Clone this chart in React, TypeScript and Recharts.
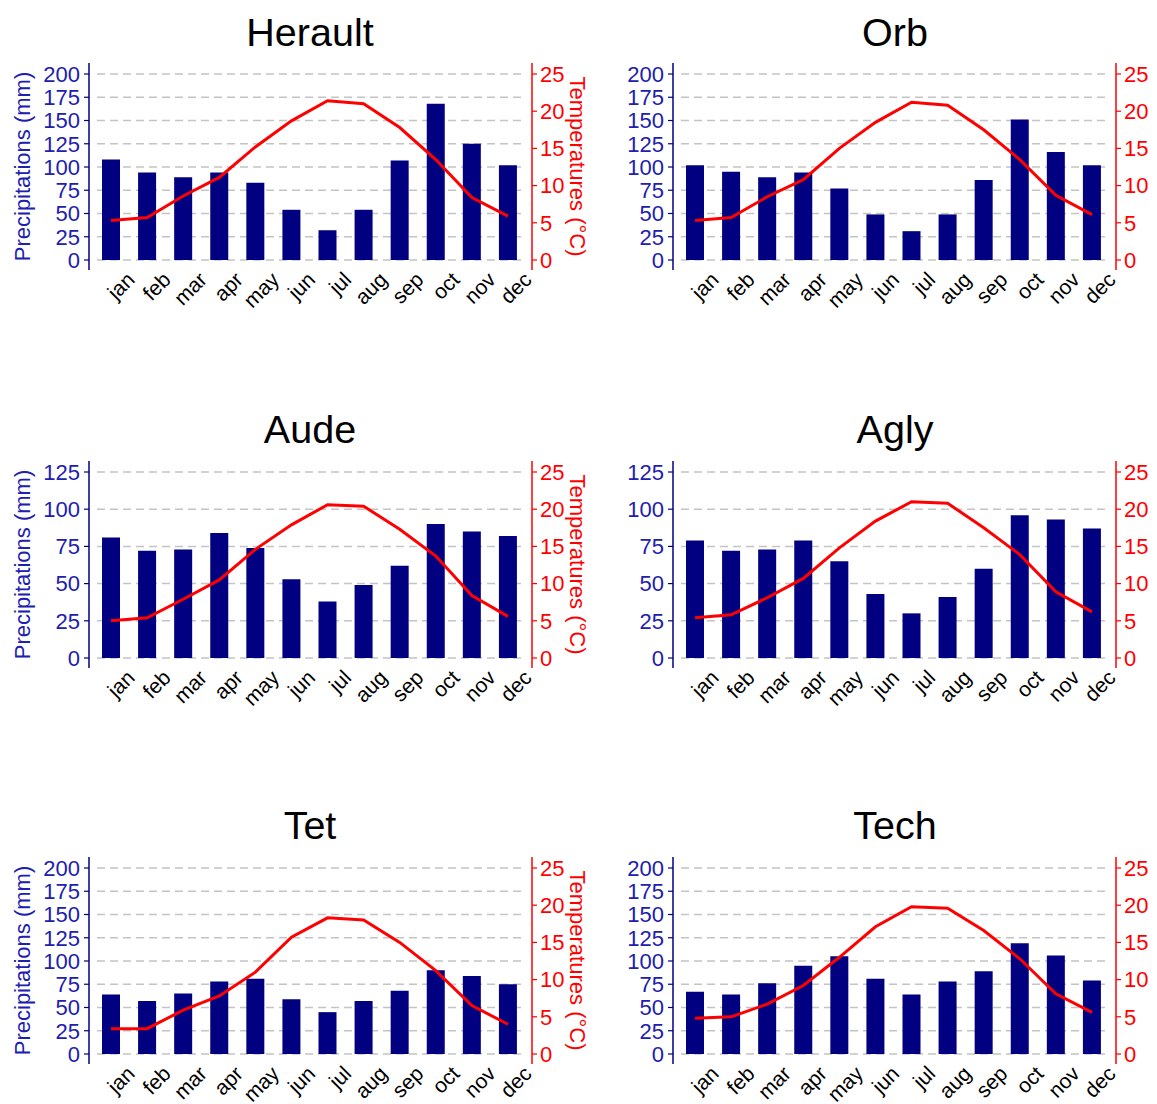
import React from "react";
import { ComposedChart, Bar, Line, XAxis, YAxis, CartesianGrid } from "recharts";

const MONTHS = ["jan", "feb", "mar", "apr", "may", "jun", "jul", "aug", "sep", "oct", "nov", "dec"];

const PRECIP_TICKS_200 = [0, 25, 50, 75, 100, 125, 150, 175, 200];
const PRECIP_TICKS_125 = [0, 25, 50, 75, 100, 125];
const TEMP_TICKS = [0, 5, 10, 15, 20, 25];

const HERAULT_PRECIP = [108, 94, 89, 94, 83, 54, 32, 54, 107, 168, 125, 102];
const HERAULT_TEMP = [5.3, 5.7, 8.6, 11.1, 15.2, 18.7, 21.4, 21.0, 17.8, 13.5, 8.4, 5.9];

const ORB_PRECIP = [102, 95, 89, 94, 77, 49, 31, 49, 86, 151, 116, 102];
const ORB_TEMP = [5.3, 5.7, 8.5, 10.8, 15.0, 18.5, 21.2, 20.8, 17.5, 13.5, 8.7, 6.1];

const AUDE_PRECIP = [81, 72, 73, 84, 74, 53, 38, 49, 62, 90, 85, 82];
const AUDE_TEMP = [5.0, 5.4, 7.9, 10.5, 14.6, 17.9, 20.6, 20.4, 17.3, 13.7, 8.4, 5.6];

const AGLY_PRECIP = [79, 72, 73, 79, 65, 43, 30, 41, 60, 96, 93, 87];
const AGLY_TEMP = [5.4, 5.8, 8.1, 10.7, 14.8, 18.4, 21.0, 20.8, 17.5, 13.9, 8.9, 6.2];

const TET_PRECIP = [64, 57, 65, 78, 81, 59, 45, 57, 68, 90, 84, 75];
const TET_TEMP = [3.4, 3.4, 5.9, 7.8, 11.0, 15.7, 18.3, 18.0, 15.0, 11.2, 6.5, 4.0];

const TECH_PRECIP = [67, 64, 76, 95, 105, 81, 64, 78, 89, 119, 106, 79];
const TECH_TEMP = [4.8, 5.0, 6.7, 9.2, 13.0, 17.1, 19.8, 19.6, 16.6, 12.8, 8.1, 5.6];

const FONT = "'Liberation Sans', Arial, sans-serif";
const BLUE_TEXT = "#2020b0";
const NAVY = "#000080";
const RED = "#ff0000";

const PANEL_W = 600;
const PANEL_H = 320;
const PLOT_TOP = 63;
const X_AXIS_H = 50;
const PLOT_H = PANEL_H - PLOT_TOP - X_AXIS_H;
const LEFT_AXIS_W = 89;
const RIGHT_AXIS_W = 68;

const COL_LEFT = [0, 584];
const ROW_TOP = [0, 398, 794];

function MonthTick(props: any) {
  const { x, y, payload } = props;
  const px = x + 25;
  const py = y + 11;
  return (
    <text
      x={px}
      y={py}
      transform={`rotate(-45, ${px}, ${py})`}
      textAnchor="end"
      fill="#000"
      fontSize={21}
      fontFamily={FONT}
    >
      {payload.value}
    </text>
  );
}

function PrecipLabel() {
  const cx = 22;
  const cy = PLOT_TOP + PLOT_H / 2;
  return (
    <text
      x={cx}
      y={cy}
      transform={`rotate(-90, ${cx}, ${cy})`}
      textAnchor="middle"
      dominantBaseline="central"
      fill={BLUE_TEXT}
      fontSize={22}
      fontFamily={FONT}
    >
      Precipitations (mm)
    </text>
  );
}

function TempLabel() {
  const cx = 577;
  const cy = PLOT_TOP + PLOT_H / 2;
  return (
    <text
      x={cx}
      y={cy}
      transform={`rotate(90, ${cx}, ${cy})`}
      textAnchor="middle"
      dominantBaseline="central"
      fill={RED}
      fontSize={22}
      fontFamily={FONT}
    >
      Temperatures (°C)
    </text>
  );
}

type PanelProps = {
  precip: number[];
  temp: number[];
  precipTicks: number[];
  left: number;
  top: number;
  withLabels: boolean;
};

function ClimatePanel({ precip, temp, precipTicks, left, top, withLabels }: PanelProps) {
  const data = MONTHS.map((m, i) => ({ month: m, precip: precip[i], temp: temp[i] }));
  const pMax = precipTicks[precipTicks.length - 1];
  return (
    <div style={{ position: "absolute", left, top, width: PANEL_W, height: PANEL_H }}>
      <ComposedChart
        width={PANEL_W}
        height={PANEL_H}
        data={data}
        margin={{ top: PLOT_TOP, right: 0, bottom: 0, left: 0 }}
      >
        <CartesianGrid
          yAxisId="p"
          horizontal
          vertical={false}
          syncWithTicks
          x={97}
          width={428}
          stroke="#c4c4c4"
          strokeDasharray="8 5"
          strokeWidth={1.5}
        />
        <XAxis
          dataKey="month"
          height={X_AXIS_H}
          axisLine={false}
          tickLine={false}
          tickSize={0}
          tickMargin={0}
          interval={0}
          padding={{ left: 4, right: 6 }}
          tick={(p: any) => <MonthTick {...p} />}
        />
        <YAxis
          yAxisId="p"
          width={LEFT_AXIS_W}
          domain={[0, pMax]}
          ticks={precipTicks}
          interval={0}
          padding={{ top: 11, bottom: 10 }}
          axisLine={{ stroke: NAVY, strokeWidth: 1.5 }}
          tickLine={{ stroke: NAVY, strokeWidth: 1.2 }}
          tickSize={5}
          tickMargin={4}
          tick={{ fill: BLUE_TEXT, fontSize: 22, fontFamily: FONT }}
          label={withLabels ? { content: () => <PrecipLabel /> } : undefined}
        />
        <YAxis
          yAxisId="t"
          orientation="right"
          width={RIGHT_AXIS_W}
          domain={[0, 25]}
          ticks={TEMP_TICKS}
          interval={0}
          padding={{ top: 11, bottom: 10 }}
          axisLine={{ stroke: RED, strokeWidth: 1.5 }}
          tickLine={{ stroke: RED, strokeWidth: 1.2 }}
          tickSize={5}
          tickMargin={3}
          tick={{ fill: RED, fontSize: 22, fontFamily: FONT }}
          label={withLabels ? { content: () => <TempLabel /> } : undefined}
        />
        <Bar yAxisId="p" dataKey="precip" fill={NAVY} barSize={18} isAnimationActive={false} />
        <Line
          yAxisId="t"
          type="linear"
          dataKey="temp"
          stroke={RED}
          strokeWidth={3}
          dot={false}
          activeDot={false}
          isAnimationActive={false}
        />
      </ComposedChart>
    </div>
  );
}

const PANELS = [
  { title: "Herault", precip: HERAULT_PRECIP, temp: HERAULT_TEMP, ticks: PRECIP_TICKS_200 },
  { title: "Orb", precip: ORB_PRECIP, temp: ORB_TEMP, ticks: PRECIP_TICKS_200 },
  { title: "Aude", precip: AUDE_PRECIP, temp: AUDE_TEMP, ticks: PRECIP_TICKS_125 },
  { title: "Agly", precip: AGLY_PRECIP, temp: AGLY_TEMP, ticks: PRECIP_TICKS_125 },
  { title: "Tet", precip: TET_PRECIP, temp: TET_TEMP, ticks: PRECIP_TICKS_200 },
  { title: "Tech", precip: TECH_PRECIP, temp: TECH_TEMP, ticks: PRECIP_TICKS_200 },
];

const TITLE_BASELINES = [46, 443, 839];
const TITLE_CENTERS = [310, 895];

export default function App() {
  return (
    <div
      style={{
        position: "absolute",
        left: 0,
        top: 0,
        width: 1157,
        height: 1104,
        overflow: "hidden",
        background: "#fff",
        fontFamily: FONT,
      }}
    >
      {PANELS.map((p, i) => {
        const col = i % 2;
        const row = Math.floor(i / 2);
        return (
          <ClimatePanel
            key={p.title}
            precip={p.precip}
            temp={p.temp}
            precipTicks={p.ticks}
            left={COL_LEFT[col]}
            top={ROW_TOP[row]}
            withLabels={col === 0}
          />
        );
      })}
      <svg
        width={1157}
        height={1104}
        style={{ position: "absolute", left: 0, top: 0, pointerEvents: "none" }}
      >
        {PANELS.map((p, i) => (
          <text
            key={p.title}
            x={TITLE_CENTERS[i % 2]}
            y={TITLE_BASELINES[Math.floor(i / 2)]}
            textAnchor="middle"
            fontSize={39.5}
            fontFamily={FONT}
            fill="#000"
          >
            {p.title}
          </text>
        ))}
      </svg>
    </div>
  );
}
